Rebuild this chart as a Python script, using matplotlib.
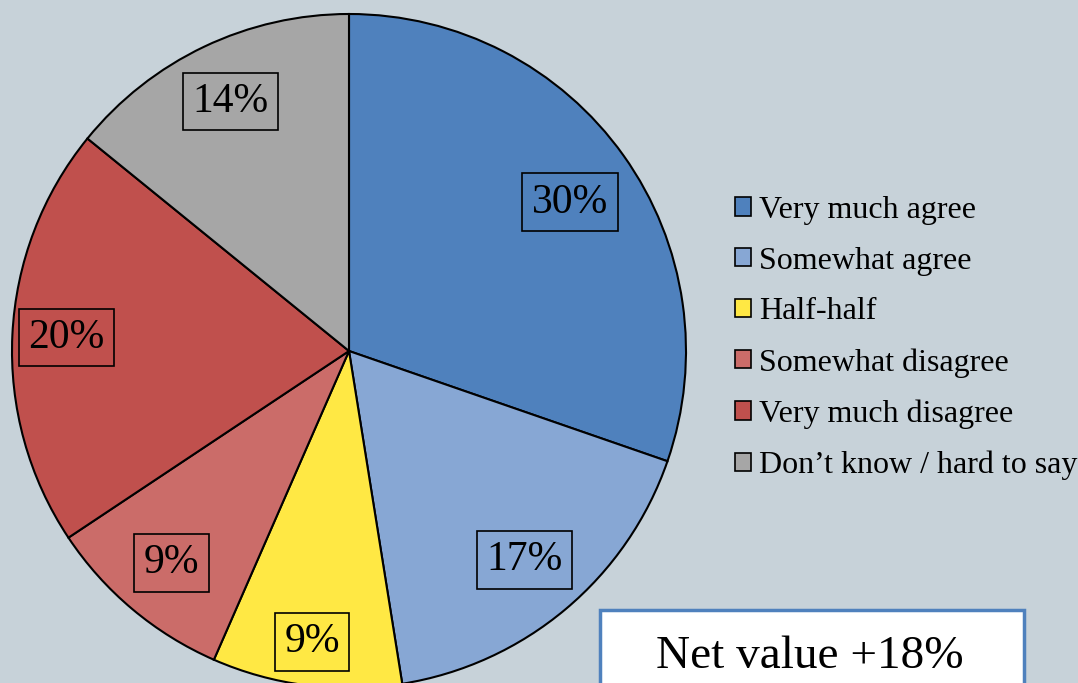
import numpy as np
import matplotlib.pyplot as plt
from matplotlib.patches import Rectangle

categories = ['Very much agree', 'Somewhat agree', 'Half-half',
              'Somewhat disagree', 'Very much disagree', 'Don\u2019t know / hard to say']
shares = [30, 17, 9, 9, 20, 14]
colors = ['#4F81BD', '#87A7D4', '#FFE844', '#CB6C69', '#C0504D', '#A6A6A6']
net_text = 'Net value +18%'

# label distance from centre (fraction of radius) and angle nudge (deg)
label_r = [0.79, 0.81, 0.87, 0.82, 0.84, 0.82]
label_da = [-1.5, 0, 0, 0, 0, 0]

bg = '#C7D2D9'
plt.rcParams['font.family'] = ['Liberation Serif', 'DejaVu Serif']

fig = plt.figure(figsize=(10.78, 6.83), dpi=100, facecolor=bg)

# pie axes: centre at (349, 351) px, radius 337 px
W, H = 1078, 683
cx, cy, r = 349, 351, 337
ax = fig.add_axes([(cx - r) / W, (H - cy - r) / H, 2 * r / W, 2 * r / H])

wedges, texts, autotexts = ax.pie(
    shares, colors=colors, startangle=90, counterclock=False, radius=1,
    autopct='%d%%', pctdistance=0.82,
    wedgeprops=dict(edgecolor='black', linewidth=1.5),
    textprops=dict(fontsize=30, color='black'))
ax.set_aspect('auto')
ax.set_xlim(-1, 1)
ax.set_ylim(-1, 1)
ax.axis('off')
for w, t, lr, da in zip(wedges, autotexts, label_r, label_da):
    mid = np.deg2rad((w.theta1 + w.theta2) / 2 + da)
    t.set_position((lr * np.cos(mid), lr * np.sin(mid)))
    t.set_bbox(dict(facecolor='none', edgecolor='black', linewidth=1.2, pad=7))
    t.set_clip_on(False)
for w in wedges:
    w.set_clip_on(False)

leg = fig.legend(wedges, categories, loc='center left',
                 bbox_to_anchor=(735 / W, (H - 338) / H),
                 frameon=False, fontsize=23, borderpad=0, borderaxespad=0,
                 handlelength=0.5, handleheight=0.5, handletextpad=0.25,
                 labelspacing=0.68)
for h in leg.legend_handles:
    h.set_linewidth(1.2)

# net value box
fig.patches.append(Rectangle((600 / W, -20 / H), 424 / W, (H - 610 + 20) / H,
                             transform=fig.transFigure, facecolor='white',
                             edgecolor='#4F81BD', linewidth=2.5))
fig.text(810 / W, (H - 657) / H, net_text, fontsize=34, ha='center', va='center')

fig.savefig('out.png', dpi=100, facecolor=bg)
